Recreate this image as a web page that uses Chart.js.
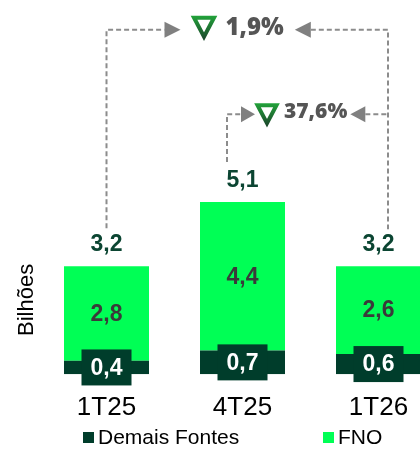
<!DOCTYPE html>
<html><head><meta charset="utf-8">
<script src="https://cdn.jsdelivr.net/npm/chart.js@4"></script>
<style>
html,body{margin:0;padding:0;background:#fff;overflow:hidden}
#wrap{width:420px;height:449px;overflow:hidden;position:relative}
canvas{display:block}
</style></head><body>
<div id="wrap"><canvas id="c" width="460" height="449"></canvas></div>
<script>
const categories = ['1T25', '4T25', '1T26'];
const demaisFontes = [0.4, 0.7, 0.6];
const fno = [2.8, 4.4, 2.6];
const totals = [3.2, 5.1, 3.2];
const seriesNames = ['Demais Fontes', 'FNO'];
const changeLabels = ['1,9%', '37,6%'];
const changeLevels = [10.2, 7.7];
const axisTitle = 'Bilhões';

const DARK = '#003d2b';
const BRIGHT = '#00ff55';

function fmt(v){ return v.toFixed(1).replace('.', ','); }

function drawDownTriangle(ctx, cx, top, w, h){
  const g = ctx.createLinearGradient(0, top, 0, top + h);
  g.addColorStop(0, '#22a33a');
  g.addColorStop(1, '#1c4a2c');
  ctx.save();
  ctx.strokeStyle = g;
  ctx.lineWidth = 4;
  ctx.lineJoin = 'miter';
  ctx.beginPath();
  ctx.moveTo(cx - w/2 + 2, top + 2);
  ctx.lineTo(cx + w/2 - 2, top + 2);
  ctx.lineTo(cx, top + h - 2);
  ctx.closePath();
  ctx.stroke();
  ctx.restore();
}
function arrowHead(ctx, tipX, y, dir, len, half){
  ctx.save();
  ctx.fillStyle = '#808080';
  ctx.beginPath();
  ctx.moveTo(tipX, y);
  ctx.lineTo(tipX - dir*len, y - half);
  ctx.lineTo(tipX - dir*len, y + half);
  ctx.closePath();
  ctx.fill();
  ctx.restore();
}
function dashed(ctx, pts){
  ctx.save();
  ctx.strokeStyle = '#8c8c8c';
  ctx.lineWidth = 2;
  ctx.setLineDash([5, 3]);
  ctx.beginPath();
  ctx.moveTo(pts[0][0], pts[0][1]);
  for (let i = 1; i < pts.length; i++) ctx.lineTo(pts[i][0], pts[i][1]);
  ctx.stroke();
  ctx.restore();
}

const overlay = {
  id: 'overlay',
  afterDatasetsDraw(chart){
    const ctx = chart.ctx;
    const m0 = chart.getDatasetMeta(0).data;
    const m1 = chart.getDatasetMeta(1).data;
    ctx.save();
    ctx.textAlign = 'center';
    ctx.textBaseline = 'middle';
    for (let i = 0; i < categories.length; i++){
      const d = m0[i], f = m1[i];
      const cy = (d.y + d.base) / 2;
      ctx.fillStyle = DARK;
      ctx.fillRect(d.x - 25, cy - 18, 50, 36);
      ctx.fillStyle = '#ffffff';
      ctx.font = 'bold 23px "Liberation Sans", Arial, sans-serif';
      ctx.fillText(fmt(demaisFontes[i]), d.x, cy + 1);
      ctx.fillStyle = '#3a3a3a';
      ctx.fillText(fmt(fno[i]), f.x, (f.y + f.base) / 2 + 1);
      ctx.fillStyle = '#0b4532';
      ctx.fillText(fmt(totals[i]), f.x, f.y - 21);
    }
    ctx.restore();

    const ys = chart.scales.y;
    const x0 = m1[0].x, x1 = m1[1].x, x2 = m1[2].x;
    const xR = x2 + 9.5;
    const yA = ys.getPixelForValue(changeLevels[0]);
    const botL = m1[0].y - 38, botR = m1[2].y - 37;
    dashed(ctx, [[x0, botL], [x0, yA], [x0 + 58, yA]]);
    arrowHead(ctx, x0 + 74, yA, 1, 16, 8);
    drawDownTriangle(ctx, x0 + 97.5, yA - 14, 24, 23);
    ctx.save();
    ctx.font = '800 24px "Open Sans", sans-serif';
    ctx.fillStyle = '#555555';
    ctx.textAlign = 'left';
    ctx.textBaseline = 'middle';
    const tA = x0 + 119;
    ctx.fillText(changeLabels[0], tA, yA - 2);
    const wA = ctx.measureText(changeLabels[0]).width;
    ctx.restore();
    const tipA = tA + wA + 11;
    arrowHead(ctx, tipA, yA, -1, 16, 8);
    dashed(ctx, [[tipA + 16, yA], [xR, yA], [xR, botR]]);

    const yB = ys.getPixelForValue(changeLevels[1]);
    const xL2 = x1 - 15.5;
    dashed(ctx, [[xL2, m1[1].y - 40], [xL2, yB], [xL2 + 15, yB]]);
    arrowHead(ctx, xL2 + 28, yB, 1, 14, 8);
    drawDownTriangle(ctx, xL2 + 40, yB - 11, 23, 22);
    ctx.save();
    ctx.font = '800 21px "Open Sans", sans-serif';
    ctx.fillStyle = '#555555';
    ctx.textAlign = 'left';
    ctx.textBaseline = 'middle';
    const tB = xL2 + 57;
    ctx.fillText(changeLabels[1], tB, yB - 2);
    const wB = ctx.measureText(changeLabels[1]).width;
    ctx.restore();
    const tipB = tB + wB + 3;
    arrowHead(ctx, tipB, yB, -1, 15, 8);
    dashed(ctx, [[tipB + 15, yB], [xR, yB]]);

    ctx.save();
    ctx.font = '22px "Liberation Sans", Arial, sans-serif';
    ctx.fillStyle = '#000';
    ctx.textAlign = 'center';
    ctx.textBaseline = 'middle';
    ctx.translate(27, ys.getPixelForValue(2.2));
    ctx.rotate(-Math.PI/2);
    ctx.fillText(axisTitle, 0, 0);
    ctx.restore();

    ctx.save();
    ctx.font = '21px "Liberation Sans", Arial, sans-serif';
    ctx.textBaseline = 'middle';
    ctx.textAlign = 'left';
    const ly = 437;
    const legendX = [83, 323];
    const legendCol = [DARK, BRIGHT];
    for (let k = 0; k < 2; k++){
      ctx.fillStyle = legendCol[k];
      ctx.fillRect(legendX[k], ly - 5, 11, 11);
      ctx.fillStyle = '#000';
      ctx.fillText(seriesNames[k], legendX[k] + 15, ly + 1);
    }
    ctx.restore();
  }
};

new Chart(document.getElementById('c'), {
  type: 'bar',
  data: {
    labels: categories,
    datasets: [
      { label: seriesNames[0], data: demaisFontes, backgroundColor: DARK, borderWidth: 0 },
      { label: seriesNames[1], data: fno, backgroundColor: BRIGHT, borderWidth: 0 }
    ]
  },
  options: {
    responsive: false,
    animation: false,
    devicePixelRatio: 1,
    layout: { padding: { left: 38.5, right: 13.5, top: 19.6, bottom: 7.6 } },
    plugins: { legend: { display: false }, tooltip: { enabled: false } },
    datasets: { bar: { categoryPercentage: 1, barPercentage: 0.625 } },
    scales: {
      x: {
        stacked: true,
        grid: { display: false, drawTicks: false },
        border: { display: false },
        ticks: { color: '#000', padding: 18, font: { family: '"Liberation Sans", Arial, sans-serif', size: 26 } }
      },
      y: {
        stacked: true,
        display: false,
        min: 0,
        max: 10.5
      }
    }
  },
  plugins: [overlay]
});
</script>
</body></html>
